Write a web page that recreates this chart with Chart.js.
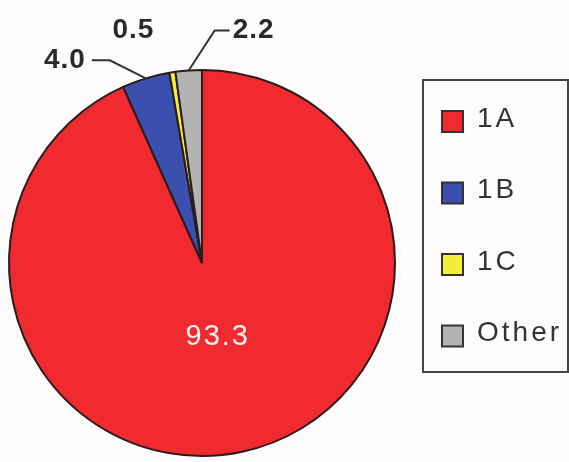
<!DOCTYPE html>
<html>
<head>
<meta charset="utf-8">
<script src="https://cdn.jsdelivr.net/npm/chart.js@4.4.0/dist/chart.umd.min.js"></script>
<style>
  html, body { margin: 0; padding: 0; background: #fdfbfb; }
  #wrap { width: 569px; height: 462px; }
</style>
</head>
<body>
<div id="wrap"><canvas id="grafica" width="569" height="462"></canvas></div>
<script>
// datos del gráfico
const categorias = ['1A', '1B', '1C', 'Other'];
const valores = [93.3, 4.0, 0.5, 2.2];
const etiquetas = ['93.3', '4.0', '0.5', '2.2'];

const colores = ['#f02a2e', '#3a4fae', '#f2ee3a', '#b3b3b3'];

// posición de las etiquetas respecto al borde de cada porción
// (null = etiqueta dentro de la porción)
const guias = [
  null,
  { ex: -36, ey: -18, hx: -54, tx: -60, align: 'right' },
  { ex: 0, ey: 0, hx: null, tx: -39, ty: -42, align: 'center' },
  { ex: 26, ey: -40, hx: 41, tx: 44, align: 'left' }
];

const FUENTE = '"Liberation Sans", Arial, sans-serif';

const pluginEtiquetas = {
  id: 'etiquetas',
  afterDatasetsDraw(chart) {
    const ctx = chart.ctx;
    const meta = chart.getDatasetMeta(0);
    ctx.save();
    meta.data.forEach((arc, i) => {
      const p = arc.getProps(['x', 'y', 'startAngle', 'endAngle', 'outerRadius'], true);
      const mid = (p.startAngle + p.endAngle) / 2;
      const g = guias[i];
      if (!g) {
        // etiqueta interior
        const r = p.outerRadius * 0.39;
        ctx.fillStyle = '#fff4f4';
        ctx.font = '29px ' + FUENTE;
        ctx.letterSpacing = '2px';
        ctx.textAlign = 'center';
        ctx.textBaseline = 'middle';
        ctx.fillText(etiquetas[i], p.x + Math.cos(mid) * r, p.y + Math.sin(mid) * r);
        return;
      }
      const ax = p.x + Math.cos(mid) * p.outerRadius;
      const ay = p.y + Math.sin(mid) * p.outerRadius;
      const ex = ax + g.ex, ey = ay + g.ey;
      if (g.hx !== null) {
        ctx.strokeStyle = '#333';
        ctx.lineWidth = 2;
        ctx.beginPath();
        ctx.moveTo(ax, ay);
        ctx.lineTo(ex, ey);
        ctx.lineTo(ax + g.hx, ey);
        ctx.stroke();
      }
      ctx.fillStyle = '#2a2a2a';
      ctx.font = 'bold 28px ' + FUENTE;
      ctx.letterSpacing = '1px';
      ctx.textAlign = g.align;
      ctx.textBaseline = 'middle';
      ctx.fillText(etiquetas[i], ax + g.tx, g.ty !== undefined ? ay + g.ty : ey);
    });
    ctx.restore();
  }
};

const pluginLeyenda = {
  id: 'leyendaCaja',
  afterDraw(chart) {
    const ctx = chart.ctx;
    const ds = chart.data.datasets[0];
    const caja = { x: 423, y: 80, w: 145, h: 292 };
    ctx.save();
    ctx.fillStyle = '#fdfbfb';
    ctx.fillRect(caja.x, caja.y, caja.w, caja.h);
    ctx.strokeStyle = '#444';
    ctx.lineWidth = 2;
    ctx.strokeRect(caja.x, caja.y, caja.w, caja.h);
    chart.data.labels.forEach((lab, i) => {
      const cy = 121 + i * 71.5;
      ctx.fillStyle = ds.backgroundColor[i];
      ctx.fillRect(442, cy - 10, 21, 21);
      ctx.strokeStyle = '#333';
      ctx.lineWidth = 2;
      ctx.strokeRect(442, cy - 10, 21, 21);
      ctx.fillStyle = '#333';
      ctx.font = '28px ' + FUENTE;
      ctx.letterSpacing = '3px';
      ctx.textAlign = 'left';
      ctx.textBaseline = 'middle';
      ctx.fillText(lab, 477, cy - 2);
    });
    ctx.restore();
  }
};

new Chart(document.getElementById('grafica').getContext('2d'), {
  type: 'pie',
  data: {
    labels: categorias,
    datasets: [{
      data: valores,
      backgroundColor: colores,
      borderColor: '#2a1c1c',
      borderWidth: 2,
      hoverOffset: 0,
      hoverBorderWidth: 2
    }]
  },
  options: {
    responsive: false,
    animation: false,
    layout: { padding: { left: 8, top: 69, right: 173, bottom: 5 } },
    plugins: {
      legend: { display: false },
      tooltip: { enabled: false },
      title: { display: false }
    }
  },
  plugins: [pluginEtiquetas, pluginLeyenda]
});
</script>
</body>
</html>
